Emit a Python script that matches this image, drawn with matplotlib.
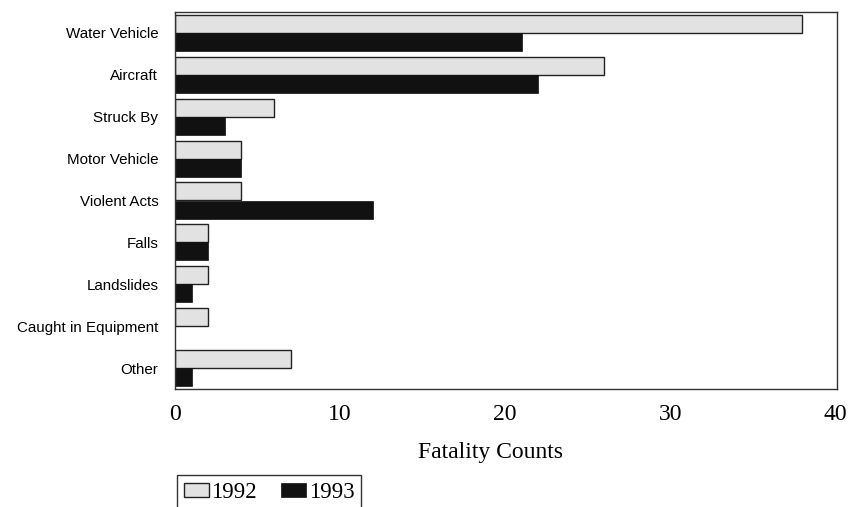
import matplotlib
matplotlib.use("Agg")
import matplotlib.pyplot as plt
import numpy as np

categories = ["Water Vehicle", "Aircraft", "Struck By", "Motor Vehicle", "Violent Acts",
              "Falls", "Landslides", "Caught in Equipment", "Other"]
values_1992 = [38, 26, 6, 4, 4, 2, 2, 2, 7]
values_1993 = [21, 22, 3, 4, 12, 2, 1, 0, 1]
xticks = [0, 10, 20, 30, 40]

fig = plt.figure(figsize=(8.58, 5.07), dpi=100)
ax = fig.add_axes([175/858, 1-389/507, (837-175)/858, (389-12)/507])

y = np.arange(len(categories))
h = 0.43
ax.barh(y - h/2, values_1992, height=h, color="#e2e2e2", edgecolor="#222222", linewidth=1.0, label="1992")
ax.barh(y + h/2, values_1993, height=h, color="#111111", edgecolor="#111111", linewidth=0.5, label="1993")

ax.set_ylim(len(categories) - 0.5, -0.5)
ax.set_xlim(0, 40.1)
ax.set_yticks(y)
ax.set_yticklabels(categories, family="Liberation Sans", fontsize=10.9)
ax.set_xticks(xticks)
ax.set_xticklabels([str(t) for t in xticks], family="Liberation Serif", fontsize=17)
ax.tick_params(axis="both", length=0)
ax.tick_params(axis="x", pad=11)
ax.tick_params(axis="y", pad=12)
for s in ax.spines.values():
    s.set_linewidth(1.0)
    s.set_color("#333333")
ax.set_xlabel("Fatality Counts", family="Liberation Serif", fontsize=17, labelpad=12, x=0.476)

leg = fig.legend(loc="upper left", bbox_to_anchor=(177/858, 1-475/507), ncol=2,
                 prop={"family": "Liberation Serif", "size": 16.5}, frameon=True,
                 fancybox=False, edgecolor="black", handlelength=1.1, handleheight=0.6,
                 handletextpad=0.1, columnspacing=1.05, borderpad=0.3, borderaxespad=0)
leg.get_frame().set_linewidth(1.0)

fig.savefig("out.png", dpi=100)
